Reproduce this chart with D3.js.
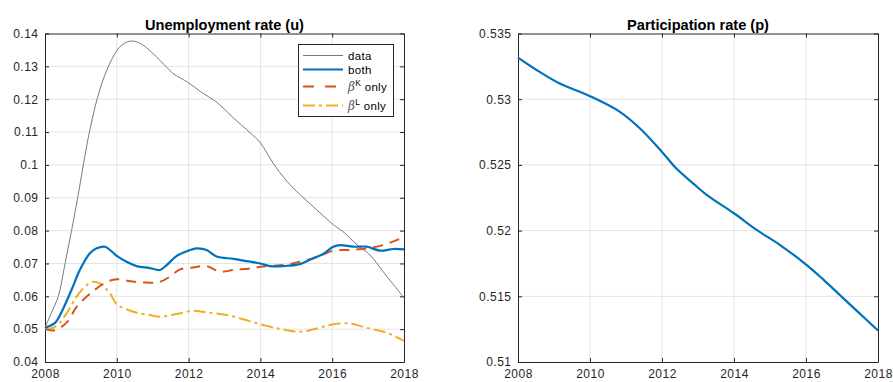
<!DOCTYPE html>
<html><head><meta charset="utf-8">
<script src="https://cdn.jsdelivr.net/npm/d3@7"></script>
<style>
body{margin:0;background:#fff;}
svg{display:block;font-family:"Liberation Sans",Arial,Helvetica,sans-serif;}
</style></head><body>
<svg id="c" width="893" height="382"></svg>
<script>
// ---------- data ----------
const dataYears = [2008.0,2008.2,2008.37,2008.56,2008.74,2008.91,2009.25,2009.53,2009.81,2010.09,2010.37,2010.65,2011.0,2011.4,2011.57,2012.0,2012.32,2012.79,2013.24,2013.71,2014.0,2014.35,2014.74,2015.1,2015.57,2016.03,2016.3,2016.69,2017.05,2017.42,2018.0];
const dataU     = [0.0505,0.0555,0.060,0.070,0.080,0.090,0.1107,0.123,0.131,0.136,0.1377,0.137,0.134,0.1296,0.1278,0.125,0.1224,0.119,0.1144,0.1098,0.1067,0.1006,0.095,0.091,0.0863,0.0818,0.0797,0.0757,0.0726,0.0675,0.0595];

const bothYears = [2008.0,2008.28,2008.42,2008.74,2008.97,2009.25,2009.44,2009.67,2010.0,2010.27,2010.55,2010.92,2011.2,2011.39,2011.67,2012.0,2012.22,2012.5,2012.78,2013.25,2013.62,2014.0,2014.27,2014.64,2015.1,2015.47,2015.75,2016.03,2016.22,2016.59,2016.96,2017.33,2017.7,2018.0];
const bothU     = [0.0504,0.0519,0.0543,0.062,0.068,0.0731,0.0746,0.0751,0.0723,0.0705,0.0692,0.0686,0.068,0.0695,0.0723,0.0739,0.0746,0.0741,0.0721,0.0714,0.0707,0.070,0.0692,0.0692,0.0698,0.0716,0.0729,0.0751,0.0756,0.0751,0.0751,0.0739,0.0744,0.0743];

const kYears = [2008.0,2008.28,2008.6,2008.88,2009.16,2009.44,2009.72,2010.0,2010.37,2010.74,2011.2,2011.48,2011.76,2012.13,2012.5,2012.87,2013.25,2013.71,2014.17,2014.64,2015.1,2015.57,2016.03,2016.5,2016.96,2017.42,2018.0];
const kU     = [0.050,0.0497,0.0520,0.0568,0.0599,0.0624,0.0644,0.0652,0.0646,0.0642,0.0644,0.066,0.0682,0.0688,0.0692,0.0675,0.068,0.0685,0.0692,0.0695,0.0705,0.0719,0.0739,0.0741,0.0746,0.0756,0.078];

const lYears = [2008.0,2008.28,2008.6,2008.88,2009.16,2009.35,2009.53,2009.81,2010.0,2010.46,2010.92,2011.2,2011.67,2012.13,2012.5,2013.06,2013.62,2014.17,2014.64,2015.1,2015.57,2016.03,2016.5,2016.96,2017.52,2018.0];
const lU     = [0.050,0.0507,0.0548,0.0599,0.0634,0.0644,0.0639,0.0609,0.0576,0.0553,0.0543,0.0538,0.0546,0.0556,0.0551,0.0543,0.0527,0.051,0.0499,0.0492,0.0502,0.0515,0.0517,0.0504,0.0489,0.0464];

const pYears = [2008.0,2008.6,2009.16,2010.0,2010.83,2011.39,2012.0,2012.4,2012.87,2013.24,2014.0,2014.63,2015.28,2016.02,2016.49,2016.94,2017.42,2018.0];
const pP     = [0.53317,0.53208,0.53119,0.53023,0.52904,0.52777,0.52599,0.52472,0.52358,0.52272,0.52132,0.52005,0.5189,0.51738,0.51625,0.5151,0.51387,0.51240];

const xTicks = [2008,2010,2012,2014,2016,2018];
const uTicks = [0.04,0.05,0.06,0.07,0.08,0.09,0.1,0.11,0.12,0.13,0.14];
const pTicks = [0.51,0.515,0.52,0.525,0.53,0.535];
const titles = ["Unemployment rate (u)","Participation rate (p)"];

// ---------- drawing ----------
const svg = d3.select("#c");
const axisCol = "#262626", gridCol = "#e3e3e3";
const yTop = 33.5, yBot = 362;

function panel(x0, x1, yDomain, yTicks, title, fmt) {
  const x = d3.scaleLinear().domain([2008,2018]).range([x0,x1]);
  const y = d3.scaleLinear().domain(yDomain).range([yBot,yTop]);
  const g = svg.append("g");
  g.append("g").selectAll("line").data(xTicks.slice(1,-1)).join("line")
    .attr("x1",d=>x(d)).attr("x2",d=>x(d)).attr("y1",yTop).attr("y2",yBot)
    .attr("stroke",gridCol).attr("stroke-width",1);
  g.append("g").selectAll("line").data(yTicks.slice(1,-1)).join("line")
    .attr("y1",d=>y(d)).attr("y2",d=>y(d)).attr("x1",x0).attr("x2",x1)
    .attr("stroke",gridCol).attr("stroke-width",1);
  const ax = g.append("g").attr("transform",`translate(0,${yBot})`)
    .call(d3.axisBottom(x).tickValues(xTicks).tickFormat(d3.format("d")).tickSizeInner(-4).tickSizeOuter(0).tickPadding(7));
  const ay = g.append("g").attr("transform",`translate(${x0},0)`)
    .call(d3.axisLeft(y).tickValues(yTicks).tickFormat(fmt).tickSizeInner(-4).tickSizeOuter(0).tickPadding(7));
  const at = g.append("g").attr("transform",`translate(0,${yTop})`)
    .call(d3.axisTop(x).tickValues(xTicks).tickFormat("").tickSizeInner(-4).tickSizeOuter(0));
  const ar = g.append("g").attr("transform",`translate(${x1},0)`)
    .call(d3.axisRight(y).tickValues(yTicks).tickFormat("").tickSizeInner(-4).tickSizeOuter(0));
  [ax,ay,at,ar].forEach(a=>{
    a.selectAll("path").attr("stroke",axisCol).attr("stroke-width",1);
    a.selectAll("line").attr("stroke",axisCol).attr("stroke-width",1);
    a.selectAll("text").attr("fill",axisCol).style("font-size","12px").style("letter-spacing","0.5px")
      .style("font-family","'Liberation Sans',Arial,sans-serif");
  });
  ay.selectAll("text").attr("dx","0.5px");
  g.append("text").attr("x",(x0+x1)/2).attr("y",29.5).attr("text-anchor","middle")
    .style("font-size","14.6px").style("font-weight","bold").attr("fill","#000").text(title);
  return {g,x,y};
}

const fmtU = d => String(+d.toFixed(2));
const fmtP = d => String(+d.toFixed(3));
const L = panel(45, 404, [0.04,0.14], uTicks, titles[0], fmtU);
const R = panel(518, 878, [0.51,0.535], pTicks, titles[1], fmtP);

function drawLine(P, xs, ys, color, w, dash) {
  const line = d3.line().x((d,i)=>P.x(xs[i])).y(d=>P.y(d)).curve(d3.curveCatmullRom.alpha(0.5));
  P.g.append("path").datum(ys).attr("d",line).attr("fill","none")
    .attr("stroke",color).attr("stroke-width",w)
    .attr("stroke-dasharray",dash||null).attr("stroke-linejoin","round");
}
const cData = "#7a7a7a", cBoth = "#0072BD", cK = "#D95319", cL = "#EDB120";
drawLine(L, dataYears, dataU, cData, 1);
drawLine(L, lYears, lU, cL, 2, "12,4,3,4");
drawLine(L, kYears, kU, cK, 2, "10,7");
drawLine(L, bothYears, bothU, cBoth, 2.2);
drawLine(R, pYears, pP, cBoth, 2.2);

// legend
const lg = svg.append("g");
lg.append("rect").attr("x",298.5).attr("y",44.5).attr("width",95).attr("height",72)
  .attr("fill","#fff").attr("stroke",axisCol).attr("stroke-width",1);
const items = [
  {c:cData,w:1,d:null,t:"data",y:55.5},
  {c:cBoth,w:2.2,d:null,t:"both",y:69.5},
  {c:cK,w:2,d:"11,11",t:"K",y:86.5},
  {c:cL,w:2,d:"12,4,3,4",t:"L",y:105.5}
];
items.forEach(it=>{
  lg.append("line").attr("x1",303).attr("x2",343).attr("y1",it.y).attr("y2",it.y)
    .attr("stroke",it.c).attr("stroke-width",it.w).attr("stroke-dasharray",it.d);
  const t = lg.append("text").attr("x",348).attr("y",it.y+4).attr("fill","#000")
    .style("font-size","11.5px").style("letter-spacing","0.3px");
  if (it.t==="data"||it.t==="both") t.text(it.t);
  else {
    t.append("tspan").style("font-family","'DejaVu Serif',serif").style("font-style","italic").style("font-size","12px").attr("fill","#555").text("β");
    t.append("tspan").attr("dy",-5).style("font-size","8.5px").text(it.t);
    t.append("tspan").attr("dy",5).text(" only");
  }
});
</script>
</body></html>
